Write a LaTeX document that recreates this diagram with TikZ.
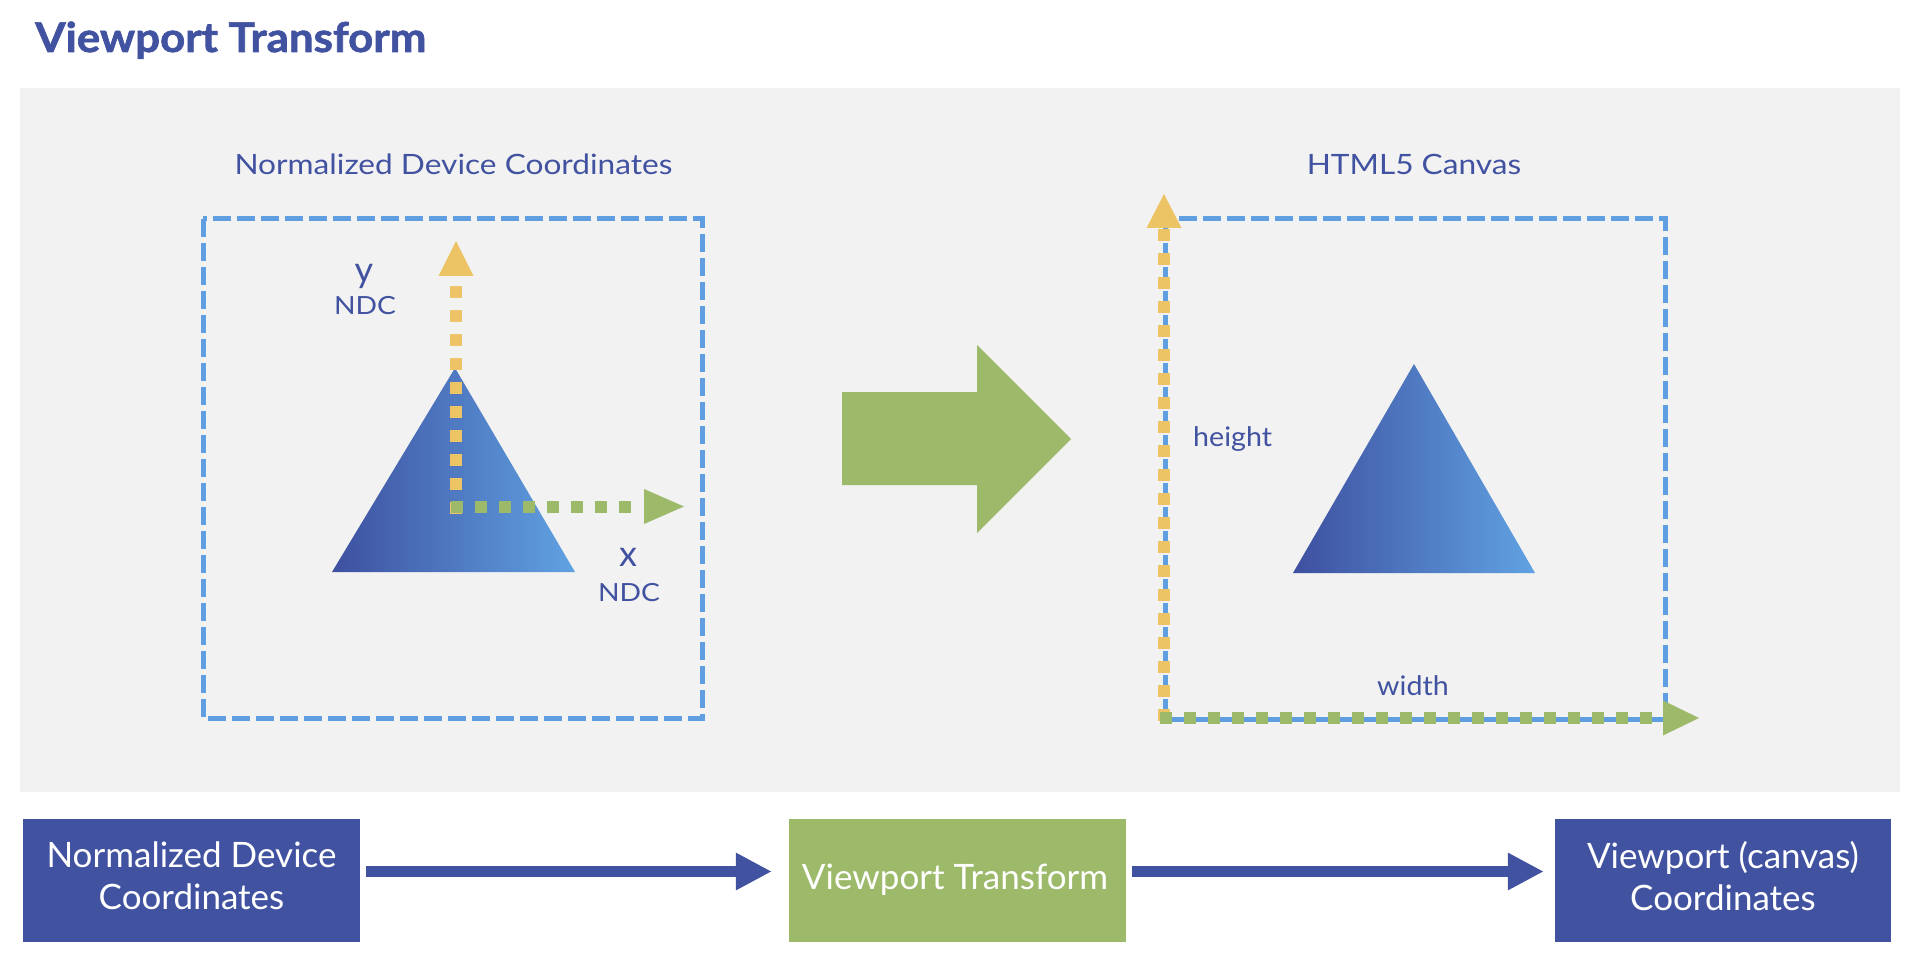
\documentclass[tikz,border=0pt]{standalone}
\usepackage{fontspec}
\setmainfont{Lato}
\newfontfamily\titlefont[FakeStretch=1.07, FakeBold=1.6]{Lato Bold}
\newfontfamily\widefont[FakeStretch=1.13]{Lato}
\newfontfamily\midfont[FakeStretch=1.06]{Lato}
\usetikzlibrary{arrows.meta}
\definecolor{navy}{RGB}{65,82,160}
\definecolor{panelgray}{RGB}{242,242,242}
\definecolor{dashblue}{RGB}{95,158,224}
\definecolor{ygold}{RGB}{237,196,101}
\definecolor{lgreen}{RGB}{156,186,106}
\definecolor{tridark}{RGB}{62,80,160}
\definecolor{trilight}{RGB}{96,162,226}
\begin{document}
\begin{tikzpicture}[x=1pt,y=-1pt,
  lbl/.style={inner sep=0pt, text=navy, font=\widefont\fontsize{28}{34}\selectfont},
  ndclbl/.style={inner sep=0pt, text=navy, font=\widefont\fontsize{25}{30}\selectfont},
  axlbl/.style={inner sep=0pt, text=navy, font=\fontsize{36}{40}\selectfont},
  dimlbl/.style={inner sep=0pt, text=navy, font=\midfont\fontsize{27}{32}\selectfont},
  bluedash/.style={draw=dashblue, line width=5pt, dash pattern=on 18pt off 6pt},
  ydots/.style={draw=ygold, line width=12pt, dash pattern=on 12pt off 12pt},
  gdots/.style={draw=lgreen, line width=12pt, dash pattern=on 12pt off 12pt},
  darkbox/.style={fill=navy, inner sep=0pt, minimum height=123pt},
  greenbox/.style={fill=lgreen, inner sep=0pt, minimum height=123pt},
  boxtext/.style={inner sep=0pt, text=white, align=center, font=\fontsize{35}{42}\selectfont},
  navyarrow/.style={draw=navy, line width=11pt, -{Triangle[length=36pt,width=35pt]}}
]
\useasboundingbox (0,0) rectangle (1919,968);
\fill[white] (0,0) rectangle (1919,968);

% title
\node[inner sep=0pt, anchor=base west, text=navy, font=\titlefont\fontsize{41}{48}\selectfont] (title) at (35,52) {Viewport Transform};

% panel
\fill[panelgray] (20,88) rectangle (1900,792);

\node[lbl, anchor=base] (ndct) at (453.5,175) {Normalized Device Coordinates};
\node[lbl, anchor=base] (htmlt) at (1414,175) {HTML5 Canvas};

% NDC box
\draw[bluedash] (203,219) rectangle (702,718);
\shade[left color=tridark, right color=trilight] (332,572) -- (575,572) -- (455,368) -- cycle;
\draw[ydots] (456,514) -- (456,286);
\fill[ygold] (438.5,276) -- (473.5,276) -- (456,241) -- cycle;
\draw[gdots] (451,507) -- (631,507);
\fill[lgreen] (644,489) -- (644,524) -- (684,506.5) -- cycle;
\node[axlbl, anchor=base] (ylbl) at (364,283) {y};
\node[ndclbl, anchor=base] (yndc) at (365,314) {NDC};
\node[axlbl, anchor=base] (xlbl) at (628,566) {x};
\node[ndclbl, anchor=base] (xndc) at (629,601) {NDC};

% big arrow
\fill[lgreen] (842,392) -- (977,392) -- (977,345) -- (1071,439) -- (977,533) -- (977,485) -- (842,485) -- cycle;

% canvas box
\draw[bluedash] (1165,219) rectangle (1665,719);
\shade[left color=tridark, right color=trilight] (1293,573) -- (1535,573) -- (1414,364) -- cycle;
\draw[ydots] (1164,721) -- (1164,229);
\fill[ygold] (1146.5,228) -- (1181.5,228) -- (1164,194) -- cycle;
\draw[gdots] (1160,718) -- (1652,718);
\fill[lgreen] (1663,700.5) -- (1663,735.5) -- (1699,718) -- cycle;
\node[dimlbl, anchor=base west] (hlbl) at (1193,446) {height};
\node[dimlbl, anchor=base] (wlbl) at (1413,695) {width};

% bottom flow
\node[darkbox, minimum width=337pt] (b1) at (191.5,880.5) {};
\node[greenbox, minimum width=337pt] (b2) at (957.5,880.5) {};
\node[darkbox, minimum width=336pt] (b3) at (1723,880.5) {};
\node[boxtext] (b1t) at (191.5,876) {Normalized Device\\Coordinates};
\node[boxtext, anchor=base] (b2t) at (955,889) {Viewport Transform};
\node[boxtext] (b3t) at (1723,876) {Viewport (canvas)\\Coordinates};
\draw[navyarrow, shorten <=6pt, shorten >=17pt] ([yshift=9pt]b1.east) -- ([yshift=9pt]b2.west);
\draw[navyarrow, shorten <=6pt, shorten >=11pt] ([yshift=9pt]b2.east) -- ([yshift=9pt]b3.west);
\end{tikzpicture}
\end{document}
